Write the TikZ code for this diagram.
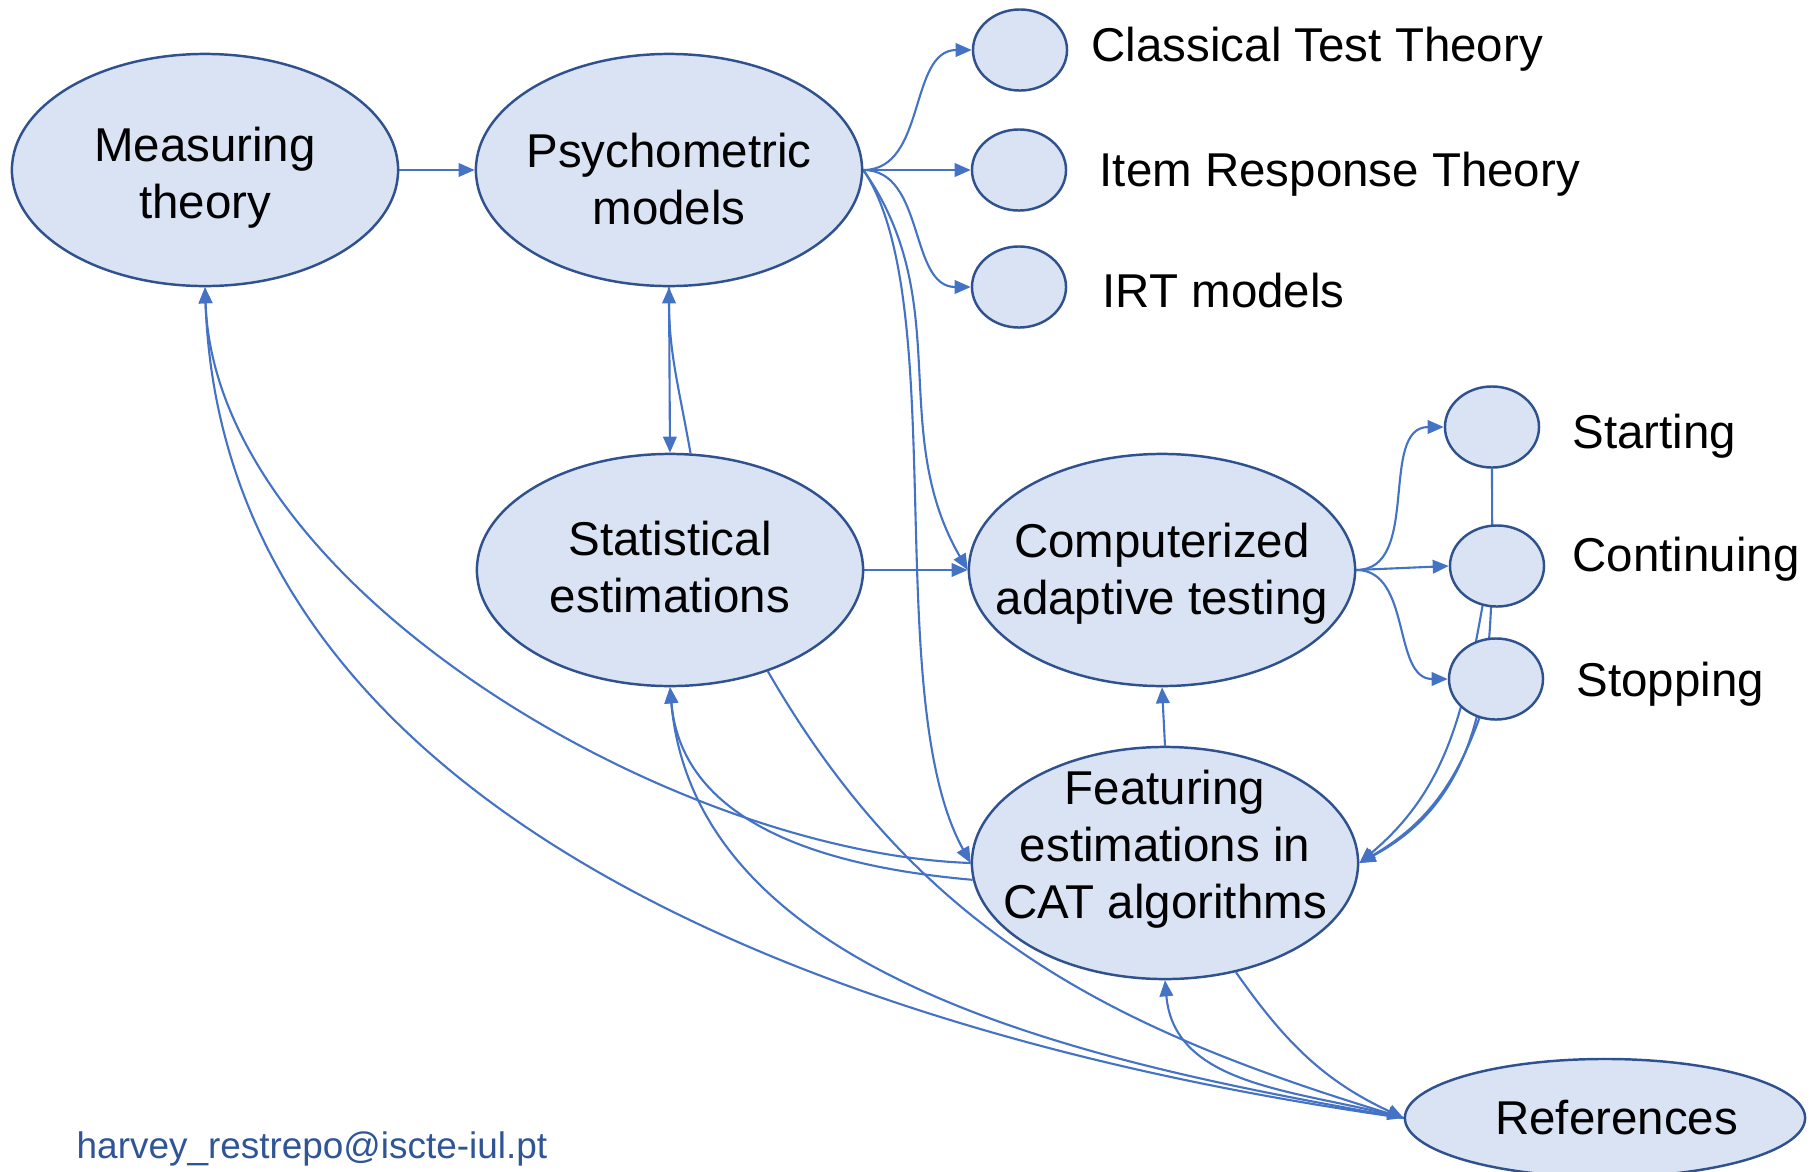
\documentclass[tikz,border=0pt]{standalone}
\usepackage{fontspec}
\setmainfont{Liberation Sans}
\usetikzlibrary{arrows.meta,shapes.geometric,backgrounds}
\definecolor{bubfill}{HTML}{DAE3F3}
\definecolor{bubline}{HTML}{2F528F}
\definecolor{edgeblue}{HTML}{4472C4}
\definecolor{mailblue}{HTML}{2F5597}
\tikzset{
  bub/.style={ellipse, draw=bubline, fill=bubfill, line width=0.7pt,
    minimum width=3.86cm, minimum height=2.32cm, inner sep=-1cm, align=center,
    font=\fontsize{13.5pt}{16.2pt}\selectfont},
  smallbub/.style={ellipse, draw=bubline, fill=bubfill, line width=0.7pt,
    minimum width=0.94cm, minimum height=0.81cm, inner sep=0pt},
  lbl/.style={anchor=base west, inner sep=0pt, font=\fontsize{13.5pt}{16.2pt}\selectfont},
  link/.style={draw=edgeblue, line width=0.6pt, ->},
}
\begin{document}
\begin{tikzpicture}[x=0.01cm, y=0.01cm, >={Triangle[length=1.6mm,width=1.35mm]}]
\useasboundingbox (0,0) rectangle (1817,-1172);

\node[bub] (meas) at (205,-170) {\rule{0pt}{14pt}Measuring\\theory};
\node[bub] (psy) at (669,-170) {\rule{0pt}{15pt}Psychometric\\models};
\node[bub] (stat) at (670,-570) {Statistical\\estimations\rule[-2pt]{0pt}{0pt}};
\node[bub] (cat) at (1162,-570) {\rule{0pt}{11.8pt}Computerized\\adaptive testing};
\node[bub] (feat) at (1165,-863) {Featuring\\estimations in\\CAT algorithms\rule[-10.4pt]{0pt}{0pt}};
\node[bub, minimum width=4cm, minimum height=1.18cm] (ref) at (1605,-1118) {\hspace{6.6pt}References};

\node[smallbub] (ctt) at (1020,-50) {};
\node[smallbub] (irt) at (1019,-170) {};
\node[smallbub] (irtm) at (1019,-287) {};
\node[smallbub] (start) at (1492,-427) {};
\node[smallbub] (cont) at (1497,-566) {};
\node[smallbub] (stop) at (1496,-679) {};

\node[lbl] (ctt-l) at (1091,-61) {Classical Test Theory};
\node[lbl] (irt-l) at (1099,-186) {Item Response Theory};
\node[lbl] (irtm-l) at (1102,-307) {IRT models};
\node[lbl] (start-l) at (1572,-448) {Starting};
\node[lbl] (cont-l) at (1572,-571) {Continuing};
\node[lbl] (stop-l) at (1576,-696) {Stopping};

\node[anchor=base west, inner sep=0pt, text=mailblue,
  font=\fontsize{10.5pt}{12.6pt}\selectfont] (mail) at (76,-1158) {harvey\_restrepo@iscte-iul.pt};

\begin{scope}[on background layer]
\draw[link] (meas.east) -- (psy.west);
\draw[link] (psy.east) to[out=0,in=180] (ctt.west);
\draw[link] (psy.east) -- (irt.west);
\draw[link] (psy.east) to[out=0,in=180] (irtm.west);
\draw[link] (psy.east) to[out=-55,in=120] (cat.west);
\draw[link] (psy.east) to[out=-56,in=119,out distance=1.58cm,in distance=1.87cm] (feat.west);
\draw[link] (psy.south) -- (stat.north);
\draw[link] (stat.80) to[out=100,in=-90] (psy.south);
\draw[link] (stat.east) -- (cat.west);
\draw[link] (feat.north) -- (cat.south);

\draw[link] (cat.east) to[out=0,in=180] (start.west);
\draw[link] (cat.east) -- (cont.west);
\draw[link] (cat.east) to[out=0,in=180] (stop.west);
\draw[link] (start.south) to[out=-90,in=28] (feat.east);
\draw[link] (cont.250) to[out=-100,in=40] (feat.east);
\draw[link] (stop.247) to[out=-110,in=30] (feat.east);

\draw[link] (feat.west) to[out=178,in=-88,looseness=0.8] (meas.south);
\draw[link] (feat.185) to[out=175,in=-85] (stat.south);
\draw[link] (ref.west) to[out=172,in=-88,looseness=0.95] (meas.south);
\draw[link] (ref.west) to[out=170,in=-85,looseness=0.9] (stat.south);
\draw[link] (stat.-46) to[out=-60,in=163] (ref.west);
\draw[link] (feat.-57) to[out=-55,in=155] (ref.west);
\draw[link] (ref.west) to[out=165,in=-85] (feat.south);
\end{scope}
\end{tikzpicture}
\end{document}
